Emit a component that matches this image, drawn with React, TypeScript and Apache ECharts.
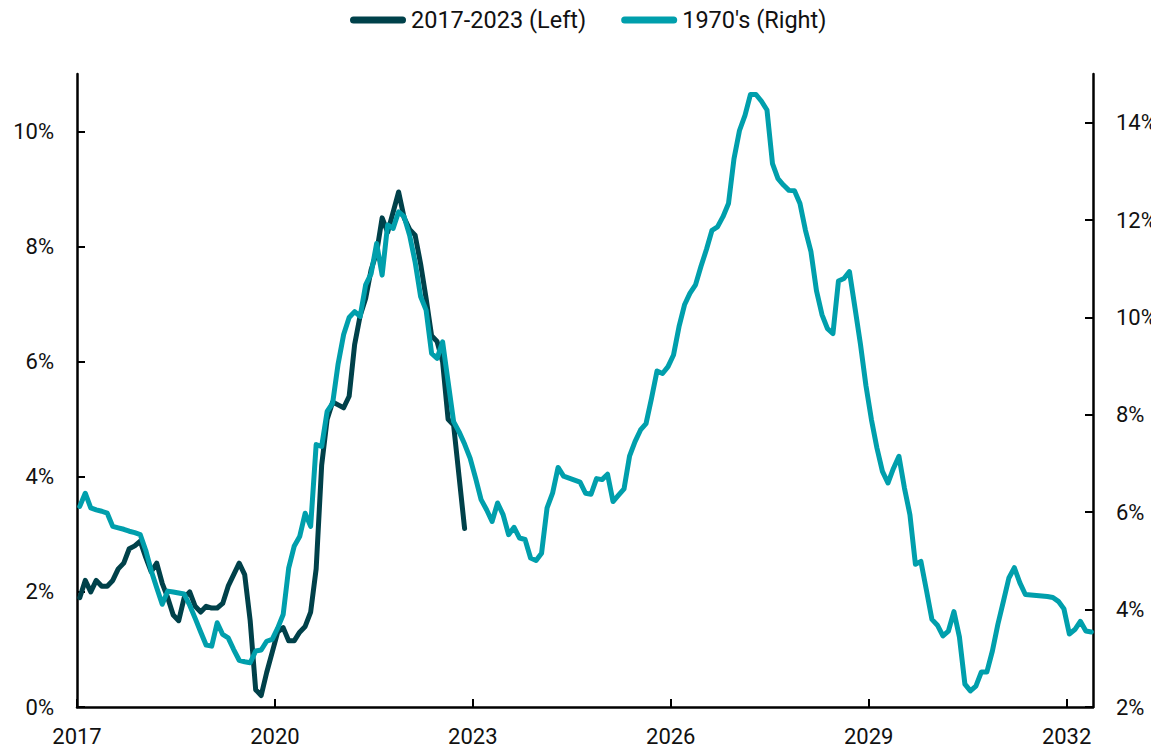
import React, { useEffect, useRef } from "react";
import * as echarts from "echarts";

// Monthly observations, first one plotted in the first month of 2017
const START_YEAR = 2017;
const SERIES_NAMES = ["2017-2023 (Left)", "1970's (Right)"];

// 2017-2023 inflation (left axis, %)
const recent = [
  1.9, 2.2, 2.0, 2.2, 2.1, 2.1, 2.2, 2.4, 2.5, 2.75, 2.8, 2.88,
  2.6, 2.35, 2.5, 2.15, 1.9, 1.6, 1.5, 1.9, 2.0, 1.75, 1.65, 1.75,
  1.72, 1.72, 1.8, 2.1, 2.3, 2.5, 2.3, 1.5, 0.3, 0.2, 0.6, 0.95,
  1.3, 1.38, 1.15, 1.15, 1.3, 1.4, 1.65, 2.4, 4.2, 5.0, 5.3, 5.25,
  5.2, 5.4, 6.3, 6.8, 7.1, 7.6, 7.9, 8.5, 8.25, 8.6, 8.95, 8.5,
  8.3, 8.2, 7.7, 7.1, 6.45, 6.35, 6.0, 5.0, 4.9, 4.0, 3.1,
];

// 1970's inflation (right axis, %)
const seventies = [
  6.12, 6.39, 6.09, 6.05, 6.02, 5.98, 5.71, 5.68, 5.65, 5.61, 5.58, 5.54,
  5.22, 4.8, 4.45, 4.11, 4.38, 4.36, 4.34, 4.32, 4.09, 3.82, 3.54, 3.27,
  3.25, 3.73, 3.49, 3.42, 3.18, 2.96, 2.93, 2.91, 3.15, 3.17, 3.35, 3.39,
  3.62, 3.9, 4.85, 5.3, 5.5, 5.98, 5.71, 7.39, 7.35, 8.07, 8.24, 9.05,
  9.65, 10.0, 10.12, 10.02, 10.67, 10.9, 11.52, 10.87, 11.9, 11.83, 12.17, 12.07,
  11.69, 11.14, 10.43, 10.15, 9.26, 9.16, 9.5, 8.68, 7.86, 7.65, 7.4, 7.11,
  6.7, 6.26, 6.05, 5.81, 6.19, 5.95, 5.54, 5.69, 5.47, 5.44, 5.06, 5.01,
  5.16, 6.09, 6.39, 6.92, 6.74, 6.7, 6.66, 6.62, 6.39, 6.37, 6.69, 6.67,
  6.78, 6.22, 6.35, 6.48, 7.15, 7.45, 7.69, 7.82, 8.34, 8.9, 8.85, 8.99,
  9.23, 9.81, 10.26, 10.5, 10.67, 11.05, 11.4, 11.79, 11.86, 12.07, 12.34, 13.26,
  13.84, 14.15, 14.58, 14.58, 14.44, 14.26, 13.16, 12.85, 12.72, 12.61, 12.6, 12.34,
  11.79, 11.35, 10.55, 10.06, 9.77, 9.67, 10.75, 10.8, 10.94, 10.2, 9.45, 8.6,
  7.9, 7.32, 6.84, 6.6, 6.9, 7.15, 6.5, 5.95, 4.93, 4.99, 4.4, 3.8,
  3.68, 3.46, 3.56, 3.96, 3.44, 2.47, 2.33, 2.43, 2.72, 2.72, 3.15, 3.7,
  4.17, 4.65, 4.86, 4.55, 4.31, 4.3, 4.29, 4.28, 4.27, 4.25, 4.17, 4.02,
  3.5, 3.59, 3.76, 3.56, 3.54,
];

const xTicks = [2017, 2020, 2023, 2026, 2029, 2032];
const leftTicks = [0, 2, 4, 6, 8, 10];
const rightTicks = [2, 4, 6, 8, 10, 12, 14];

const DARK = "#00414A";
const LIGHT = "#009FAC";
const FONT = "Roboto";

const toPairs = (vals: number[]) =>
  vals.map((v, i) => [START_YEAR + (i + 0.5) / 12, v]);

export default function App() {
  const ref = useRef<HTMLDivElement>(null);

  useEffect(() => {
    if (!ref.current) return;
    const chart = echarts.init(ref.current, undefined, { renderer: "svg" });
    const axisLine = { show: true, onZero: false, lineStyle: { color: "#000", width: 2.5 } };
    const tickStyle = { color: "#000", width: 2 };
    const label = { fontSize: 22, color: "#111", fontFamily: FONT };
    const icon =
      "path://M3.5,0 L52.5,0 A3.5,3.5 0 0 1 52.5,7 L3.5,7 A3.5,3.5 0 0 1 3.5,0 Z";

    chart.setOption({
      animation: false,
      backgroundColor: "#fff",
      legend: {
        top: 3,
        left: 345,
        itemWidth: 56,
        itemHeight: 7,
        itemGap: 35,
        textStyle: { fontSize: 23.5, color: "#111", fontFamily: FONT, padding: [0, 0, 0, 0] },
        data: [
          { name: SERIES_NAMES[0], icon },
          { name: SERIES_NAMES[1], icon },
        ],
      },
      grid: {
        left: 77,
        right: 58,
        top: 74,
        bottom: 43,
        containLabel: false,
        outerBoundsMode: "none",
      },
      xAxis: {
        type: "value",
        min: 2017,
        max: 2032.4,
        axisLine,
        axisTick: { show: true, inside: true, length: 8, lineStyle: tickStyle, customValues: xTicks },
        axisLabel: { ...label, margin: 18, customValues: xTicks, formatter: (v: number) => String(Math.round(v)) },
        splitLine: { show: false },
      },
      yAxis: [
        {
          type: "value",
          position: "left",
          min: 0,
          max: 11,
          axisLine,
          axisTick: { show: true, inside: true, length: 8, lineStyle: tickStyle, customValues: leftTicks },
          axisLabel: { ...label, margin: 23, customValues: leftTicks, formatter: (v: number) => `${v}%` },
          splitLine: { show: false },
        },
        {
          type: "value",
          position: "right",
          min: 2,
          max: 15,
          axisLine,
          axisTick: { show: true, inside: true, length: 8, lineStyle: tickStyle, customValues: rightTicks },
          axisLabel: { ...label, margin: 23, customValues: rightTicks, formatter: (v: number) => `${v}%` },
          splitLine: { show: false },
        },
      ],
      series: [
        {
          name: SERIES_NAMES[0],
          type: "line",
          yAxisIndex: 0,
          data: toPairs(recent),
          showSymbol: false,
          symbol: "none",
          color: DARK,
          lineStyle: { color: DARK, width: 5, cap: "round", join: "round" },
        },
        {
          name: SERIES_NAMES[1],
          type: "line",
          yAxisIndex: 1,
          data: toPairs(seventies),
          showSymbol: false,
          symbol: "none",
          color: LIGHT,
          lineStyle: { color: LIGHT, width: 5, cap: "round", join: "round" },
        },
      ],
    });
    return () => chart.dispose();
  }, []);

  return (
    <div
      ref={ref}
      style={{ position: "fixed", left: 0, top: 0, width: 1151, height: 750, background: "#fff" }}
    />
  );
}
